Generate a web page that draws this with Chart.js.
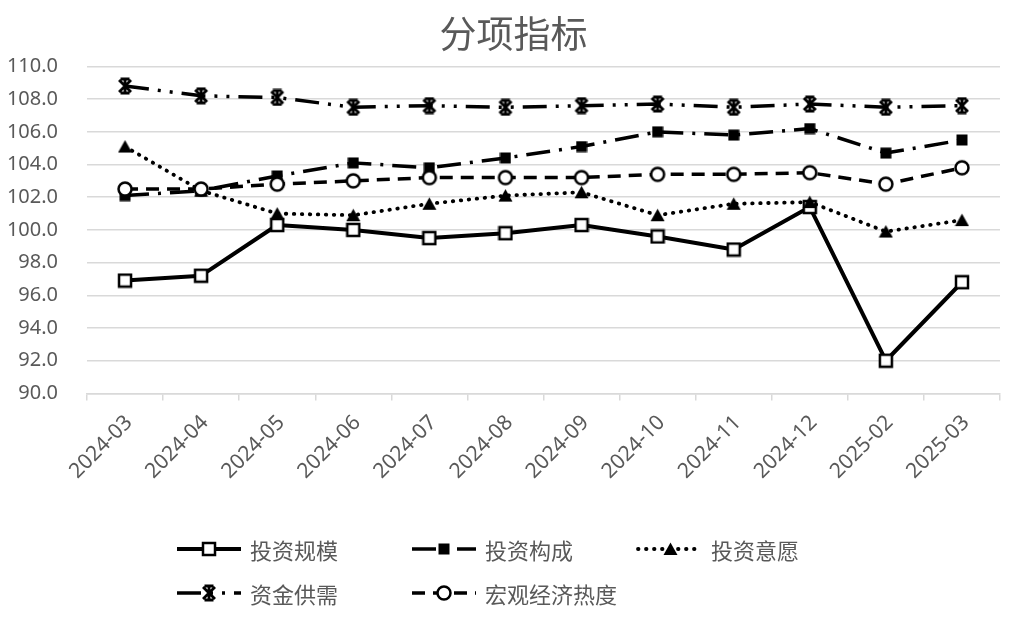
<!DOCTYPE html>
<html>
<head>
<meta charset="utf-8">
<script src="https://cdn.jsdelivr.net/npm/chart.js@4.4.1/dist/chart.umd.min.js"></script>
<style>
  html, body { margin: 0; padding: 0; background: #fff; }
  #wrap { position: relative; width: 1027px; height: 625px; }
  #legend { position: absolute; left: 0; top: 0; width: 1027px; height: 625px; pointer-events: none; }
  .item { position: absolute; display: flex; align-items: center; height: 30px;
          font-family: "Noto Sans CJK SC", sans-serif; font-size: 22px; color: #595959; }
  .item canvas { margin-right: 7px; }
</style>
</head>
<body>
<div id="wrap">
  <canvas id="c" width="1027" height="625"></canvas>
  <div id="legend"></div>
</div>
<script>
const categories = ['2024-03','2024-04','2024-05','2024-06','2024-07','2024-08','2024-09','2024-10','2024-11','2024-12','2025-02','2025-03'];
const seriesNames = ['投资规模','投资构成','投资意愿','资金供需','宏观经济热度'];
const investScale = [96.9, 97.2, 100.3, 100.0, 99.5, 99.8, 100.3, 99.6, 98.8, 101.4, 92.0, 96.8];
const investComposition = [102.1, 102.4, 103.3, 104.1, 103.8, 104.4, 105.1, 106.0, 105.8, 106.2, 104.7, 105.5];
const investWillingness = [105.1, 102.4, 101.0, 100.9, 101.6, 102.1, 102.3, 100.9, 101.6, 101.7, 99.9, 100.6];
const fundSupplyDemand = [108.8, 108.2, 108.1, 107.5, 107.6, 107.5, 107.6, 107.7, 107.5, 107.7, 107.5, 107.6];
const macroHeat = [102.5, 102.5, 102.8, 103.0, 103.2, 103.2, 103.2, 103.4, 103.4, 103.5, 102.8, 103.8];
const yTicks = { min: 90, max: 110, step: 2 };
const seriesValues = [investScale, investComposition, investWillingness, fundSupplyDemand, macroHeat];

function mk(w, h, fn) {
  const c = document.createElement('canvas');
  c.width = w; c.height = h;
  const x = c.getContext('2d');
  fn(x, w, h);
  return c;
}
const mOpenSquare = mk(16, 16, (x) => {
  x.fillStyle = '#fff'; x.fillRect(2, 2, 12, 12);
  x.strokeStyle = '#000'; x.lineWidth = 2.5; x.strokeRect(2, 2, 12, 12);
});
const mFilledSquare = mk(12, 12, (x) => { x.fillStyle = '#000'; x.fillRect(0.5, 0.5, 11, 11); });
const mTriangle = mk(15, 14, (x) => {
  x.fillStyle = '#000'; x.beginPath(); x.moveTo(7.5, 0.5); x.lineTo(14.5, 13); x.lineTo(0.5, 13); x.closePath(); x.fill();
});
const mStar = mk(18, 18, (x) => {
  x.strokeStyle = '#000'; x.lineWidth = 2.8; x.lineCap = 'butt';
  x.beginPath();
  x.moveTo(3, 3); x.lineTo(15, 15);
  x.moveTo(15, 3); x.lineTo(3, 15);
  x.moveTo(9, 1.5); x.lineTo(9, 16.5);
  x.moveTo(4.5, 2); x.lineTo(13.5, 2);
  x.moveTo(4.5, 16); x.lineTo(13.5, 16);
  x.stroke();
});
const mOpenCircle = mk(18, 18, (x) => {
  x.fillStyle = '#fff'; x.strokeStyle = '#000'; x.lineWidth = 2.5;
  x.beginPath(); x.arc(9, 9, 6.5, 0, Math.PI * 2); x.fill(); x.stroke();
});

const styles = [
  { marker: mOpenSquare, dash: [], width: 4, cap: 'butt' },
  { marker: mFilledSquare, dash: [24, 9, 3, 9], width: 3.5, cap: 'butt' },
  { marker: mTriangle, dash: [0.5, 7.5], width: 3.8, cap: 'round' },
  { marker: mStar, dash: [24, 9, 3, 9, 3, 9], width: 3.5, cap: 'butt' },
  { marker: mOpenCircle, dash: [13, 8], width: 3.5, cap: 'butt' }
];

const datasets = seriesNames.map((name, i) => ({
  label: name,
  data: seriesValues[i],
  borderColor: '#000',
  backgroundColor: '#000',
  borderWidth: styles[i].width,
  borderDash: styles[i].dash,
  borderCapStyle: styles[i].cap,
  borderJoinStyle: 'round',
  pointStyle: styles[i].marker,
  pointRadius: 7,
  pointHoverRadius: 7,
  tension: 0,
  fill: false,
  order: seriesNames.length - i
}));

new Chart(document.getElementById('c'), {
  type: 'line',
  data: { labels: categories, datasets },
  options: {
    responsive: false,
    animation: false,
    devicePixelRatio: 1,
    layout: { padding: { left: 0, right: 0, top: 0, bottom: 131 } },
    plugins: {
      legend: { display: false },
      tooltip: { enabled: false },
      title: {
        display: true,
        text: '分项指标',
        color: '#595959',
        font: { family: '"Noto Sans CJK SC"', size: 37, weight: 'normal' },
        padding: { top: 12, bottom: 10 }
      }
    },
    scales: {
      x: {
        offset: true,
        grid: { offset: true, drawOnChartArea: false, drawTicks: true, tickLength: 7, color: '#d9d9d9', lineWidth: 1.5 },
        border: { display: true, color: '#d9d9d9', width: 1.5 },
        ticks: {
          color: '#595959', font: { family: '"Noto Sans"', size: 21 },
          minRotation: 45, maxRotation: 45, autoSkip: false, padding: 10, labelOffset: 4
        },
        afterFit: (s) => { s.paddingLeft = 0; s.paddingRight = 0; }
      },
      y: {
        min: yTicks.min, max: yTicks.max,
        grid: { color: '#d9d9d9', lineWidth: 1.5, drawTicks: false },
        border: { display: false },
        ticks: {
          stepSize: yTicks.step,
          color: '#595959', font: { family: '"Noto Sans"', size: 20 },
          padding: 29,
          callback: (v) => Number(v).toFixed(1)
        },
        afterFit: (s) => { s.width = 87; }
      },
      yRight: {
        position: 'right',
        display: true,
        grid: { display: false, drawTicks: false },
        border: { display: false },
        ticks: { display: false },
        afterFit: (s) => { s.width = 27; }
      }
    }
  }
});

// HTML legend built from the datasets
const legendPos = [
  { left: 175, top: 534 }, { left: 410, top: 534 }, { left: 636, top: 534 },
  { left: 175, top: 578 }, { left: 410, top: 578 }
];
const legend = document.getElementById('legend');
seriesNames.forEach((name, i) => {
  const item = document.createElement('div');
  item.className = 'item';
  item.style.left = legendPos[i].left + 'px';
  item.style.top = legendPos[i].top + 'px';
  const s = styles[i];
  const cv = mk(68, 24, (x, w, h) => {
    x.strokeStyle = '#000'; x.lineWidth = s.width; x.lineCap = s.cap;
    x.setLineDash(s.dash);
    x.beginPath(); x.moveTo(2, h / 2); x.lineTo(w - 2, h / 2); x.stroke();
    x.setLineDash([]);
    x.drawImage(s.marker, Math.round(w / 2 - s.marker.width / 2), Math.round(h / 2 - s.marker.height / 2));
  });
  item.appendChild(cv);
  const t = document.createElement('span');
  t.textContent = name;
  item.appendChild(t);
  legend.appendChild(item);
});
</script>
</body>
</html>
